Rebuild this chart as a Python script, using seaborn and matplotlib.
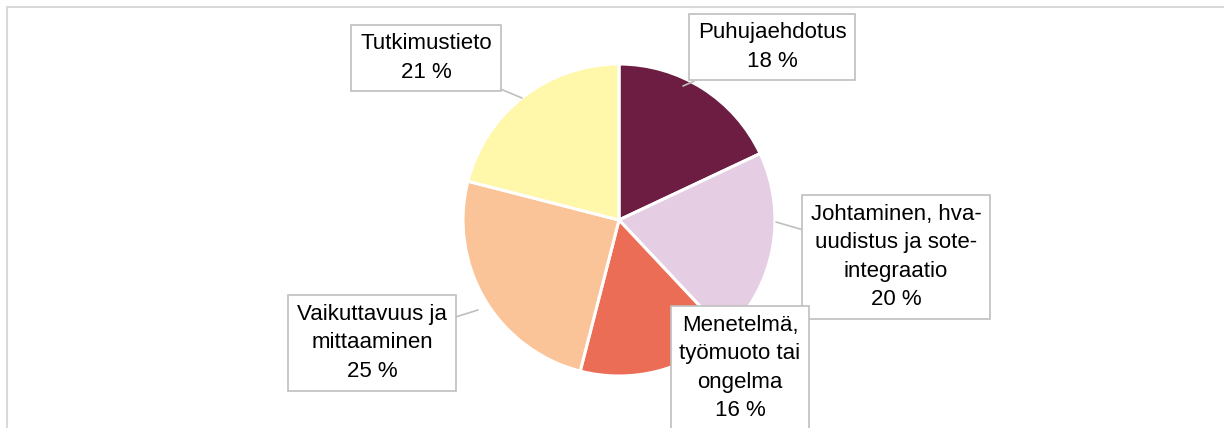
import matplotlib.pyplot as plt
import seaborn as sns
from matplotlib.patches import Rectangle

# data
labels = ["Puhujaehdotus", "Johtaminen, hva-\nuudistus ja sote-\nintegraatio",
          "Menetelmä,\ntyömuoto tai\nongelma", "Vaikuttavuus ja\nmittaaminen", "Tutkimustieto"]
shares = [18, 20, 16, 25, 21]
colors = ["#6C1D41", "#E5CEE3", "#EC6D55", "#FAC498", "#FFF7AA"]

sns.set_theme(style="white")
plt.rcParams['font.family'] = ['Liberation Sans', 'DejaVu Sans']

W, H = 1224, 428
cx, cy, r = 619, 220, 156

fig = plt.figure(figsize=(W / 100, H / 100), dpi=100)
ax = fig.add_axes([0, 0, 1, 1])

def px(x, y):
    # pixel position -> data coordinates
    return ((x - cx) / r, (cy - y) / r)

wedges, _ = ax.pie(shares, colors=sns.color_palette(colors), startangle=90, counterclock=False,
                   radius=1, wedgeprops=dict(edgecolor="white", linewidth=2.2))
ax.set_aspect('auto')
ax.set_xlim(-cx / r, (W - cx) / r)
ax.set_ylim(-(H - cy) / r, cy / r)
ax.axis('off')

# outer chart border
fig.patches.append(Rectangle((7 / W, -0.1), 1.2, 1 - 7 / H + 0.1, transform=fig.transFigure,
                             fill=False, edgecolor="#D9D9D9", linewidth=1.5))

# label positions (pixels): box centre, pointer tip on the pie
label_pos = [(772, 47), (896, 257), (740, 368), (372, 343), (426, 58)]
tips = [(683, 86), (776, 222), (700, 330), (478, 310), (522, 98)]

for lab, pct, pos, tip in zip(labels, shares, label_pos, tips):
    ax.annotate(f"{lab}\n{pct} %", xy=px(*tip), xytext=px(*pos),
                ha="center", va="center", multialignment="center",
                fontsize=16, color="black", linespacing=1.45,
                bbox=dict(boxstyle="square,pad=0.4", facecolor="white",
                          edgecolor="#BFBFBF", linewidth=1.2),
                arrowprops=dict(arrowstyle="-", color="#BFBFBF", linewidth=1.2,
                                shrinkA=0, shrinkB=0))

fig.savefig("out.png", dpi=100)
